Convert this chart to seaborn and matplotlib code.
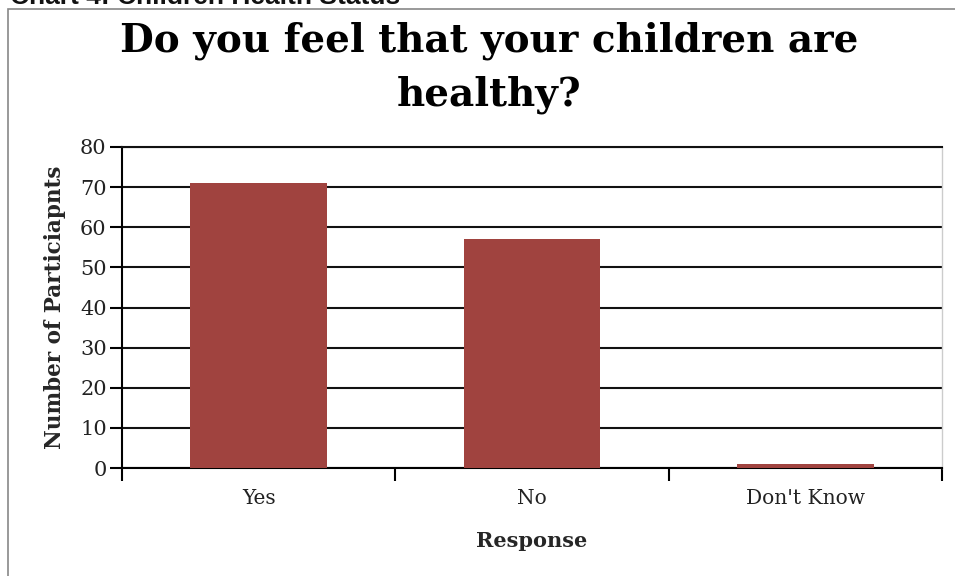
import numpy as np
import pandas as pd
import matplotlib
matplotlib.use("Agg")
import matplotlib.pyplot as plt
import seaborn as sns
from matplotlib.patches import Rectangle

# chart values
responses = ["Yes", "No", "Don't Know"]
participants = [71, 57, 1]
y_ticks = [0, 10, 20, 30, 40, 50, 60, 70, 80]

df = pd.DataFrame({"Response": responses, "Participants": participants})

sns.set_theme(style="white")
plt.rcParams['font.family'] = ['DejaVu Serif']

fig = plt.figure(figsize=(9.55, 5.76), dpi=100)
ax = fig.add_axes([122/955, 1 - 468/576, 820/955, 321/576])

sns.barplot(data=df, x="Response", y="Participants", color="#A0433F",
            width=0.5, saturation=1, linewidth=0, ax=ax, zorder=3)

ax.set_ylim(0, 80)
ax.set_xlim(-0.5, 2.5)
ax.set_yticks(y_ticks)
ax.yaxis.grid(True, color="#111111", linewidth=1.5, zorder=0)
ax.set_axisbelow(True)

ax.tick_params(axis="y", direction="out", length=9, width=1.5, color="black",
               labelsize=15, labelcolor="#222222", left=True, pad=2)
ax.tick_params(axis="x", which="major", length=0, labelsize=14.5, pad=15,
               labelcolor="#222222")
ax.set_xticks([-0.5, 0.5, 1.5, 2.5], minor=True)
ax.tick_params(axis="x", which="minor", direction="out", length=9, width=1.5,
               color="black", bottom=True)

for side in ["left", "bottom"]:
    ax.spines[side].set_color("black")
    ax.spines[side].set_linewidth(1.5)
ax.spines["top"].set_color("#111111")
ax.spines["top"].set_linewidth(1.5)
ax.spines["right"].set_color("#cccccc")
ax.spines["right"].set_linewidth(1)

ax.set_ylabel("Number of Particiapnts", fontsize=15.5, fontweight="bold", labelpad=10)
ax.set_xlabel("Response", fontsize=15, fontweight="bold", labelpad=17)

fig.text(489/955, 1 - 68/576,
         "Do you feel that your children are\nhealthy?",
         ha="center", va="center", fontsize=28, fontweight="bold",
         linespacing=1.5, color="black")

# clipped caption above the frame
fig.text(10/955, 1 - 4/576, "Chart 4: Children Health Status", ha="left",
         va="baseline", fontsize=19, fontweight="bold", family="Liberation Sans",
         color="#111111")

# outer frame
fig.patches.append(Rectangle((8/955, -0.1), 1.2, 1 - 9/576 + 0.1,
                             transform=fig.transFigure, fill=False,
                             edgecolor="#888888", linewidth=1.2))

fig.savefig("out.png", dpi=100)
